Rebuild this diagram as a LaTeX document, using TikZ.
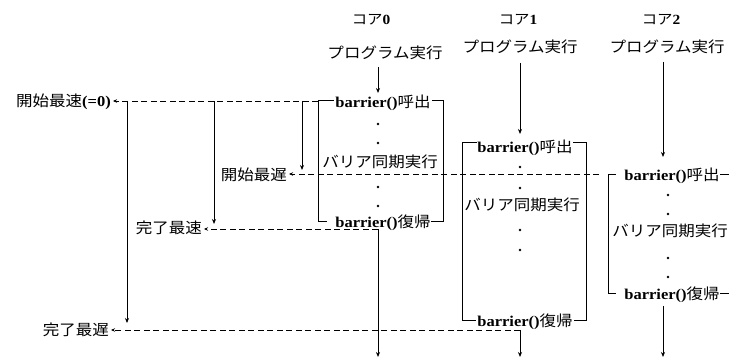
\documentclass[tikz,border=0pt]{standalone}
\usepackage{fontspec}
\setmainfont{Liberation Serif}[FakeStretch=1.1]
\newfontfamily\jp{Noto Sans CJK JP}[FakeStretch=1.1]
\usetikzlibrary{arrows.meta}
\tikzset{
  ln/.style={line width=0.8pt},
  arr/.style={ln,-{Stealth[length=5pt,width=4pt]}},
  dasharr/.style={ln,dash pattern=on 6pt off 3.5pt,-{Stealth[length=4pt,width=3.5pt]}},
  lbl/.style={font=\jp\fontsize{15}{15}\selectfont,inner sep=2pt},
  head/.style={font=\fontsize{14}{14}\selectfont,inner sep=1pt},
  bt/.style={font=\fontsize{15}{15}\selectfont,inner sep=1pt,fill=white},
  btg/.style={bt,inner xsep=0pt,label={[fill=white,inner sep=0pt,minimum width=8pt,minimum height=4pt]west:}},
  body/.style={font=\jp\fontsize{15}{15}\selectfont,inner sep=1pt},
  boxln/.style={ln},
  dot/.style={fill=black}
}
\newcommand{\bcall}{\textbf{barrier()}{\jp 呼出}}
\newcommand{\bret}{\textbf{barrier()}{\jp 復帰}}
\begin{document}
\begin{tikzpicture}[x=1pt,y=-1pt]
\useasboundingbox (0,0) rectangle (729,358);
\clip (0,0) rectangle (729,358);
% headers
\node[head] (h0) at (371,20) {{\jp コア}\textbf{0}};
\node[head] (h1) at (518,20) {{\jp コア}\textbf{1}};
\node[head] (h2) at (661,20) {{\jp コア}\textbf{2}};
\node[lbl] (p0) at (385,53) {プログラム実行};
\node[lbl] (p1) at (520,47) {プログラム実行};
\node[lbl] (p2) at (667,47) {プログラム実行};
% coordinates
\coordinate (s0) at (378,67);
\coordinate (e0) at (378,93);
\coordinate (s1) at (520,63);
\coordinate (e1) at (520,134);
\coordinate (s2) at (663,62);
\coordinate (e2) at (663,157);
\draw[arr] (s0) -- (e0);
\draw[arr] (s1) -- (e1);
\draw[arr] (s2) -- (e2);
% boxes
\draw[boxln] (318,100) rectangle (443,221);
\draw[boxln] (462,142) rectangle (586,320);
\draw[boxln] (608,174) rectangle (745,293);
% core 0 contents
\node[bt] (c0a) at (383,103) {\bcall};
\fill[dot] (378,124) circle (1.3pt);
\fill[dot] (378,143) circle (1.3pt);
\node[body] (c0m) at (380,162) {バリア同期実行};
\fill[dot] (378,187) circle (1.3pt);
\fill[dot] (378,206) circle (1.3pt);
\node[btg] (c0b) at (383,223) {\bret};
% core 1 contents
\node[btg] (c1a) at (525,148) {\bcall};
\fill[dot] (520,167) circle (1.3pt);
\fill[dot] (520,188) circle (1.3pt);
\node[body] (c1m) at (522,205) {バリア同期実行};
\fill[dot] (520,230) circle (1.3pt);
\fill[dot] (520,250) circle (1.3pt);
\node[bt] (c1b) at (525,322) {\bret};
% core 2 contents
\node[btg] (c2a) at (672,176) {\bcall};
\fill[dot] (668,195) circle (1.3pt);
\fill[dot] (668,214) circle (1.3pt);
\node[body] (c2m) at (670,231) {バリア同期実行};
\fill[dot] (668,258) circle (1.3pt);
\fill[dot] (668,277) circle (1.3pt);
\node[btg] (c2b) at (672,295) {\bret};
% left labels
\node[lbl,anchor=east] (L1) at (113,102) {開始最速{\rmfamily\textbf{(=0)}}};
\node[lbl,anchor=east] (L2) at (289,174.5) {開始最遅};
\node[lbl,anchor=east] (L3) at (204,228) {完了最速};
\node[lbl,anchor=east] (L4) at (111,330) {完了最遅};
% named points
\coordinate (b0) at (318,101);
\coordinate (b2) at (599,174);
\coordinate (r0) at (378,229);
\coordinate (r1) at (520,330);
\coordinate (r2) at (663,306);
\coordinate (q0) at (378,357);
\coordinate (q1) at (520,357);
\coordinate (q2) at (663,357);
\coordinate (v1) at (127,101);
\coordinate (v1e) at (127,323);
\coordinate (v2) at (214,101);
\coordinate (v2e) at (214,224);
\coordinate (v3) at (302,101);
\coordinate (v3e) at (302,170);
% dashed arrows to labels
\draw[dasharr] (b0) -- (L1.east |- b0);
\draw[dasharr] (b2) -- (L2.east |- b2);
\draw[dasharr] (r0) -- (L3.east |- r0);
\draw[dasharr] (r1) -- (L4.east |- r1);
% vertical time arrows
\draw[arr] (v1) -- (v1e);
\draw[arr] (v2) -- (v2e);
\draw[arr] (v3) -- (v3e);
% exits
\draw[arr] (r0) -- (q0);
\draw[arr] (r1) -- (q1);
\draw[arr] (r2) -- (q2);
\end{tikzpicture}
\end{document}
